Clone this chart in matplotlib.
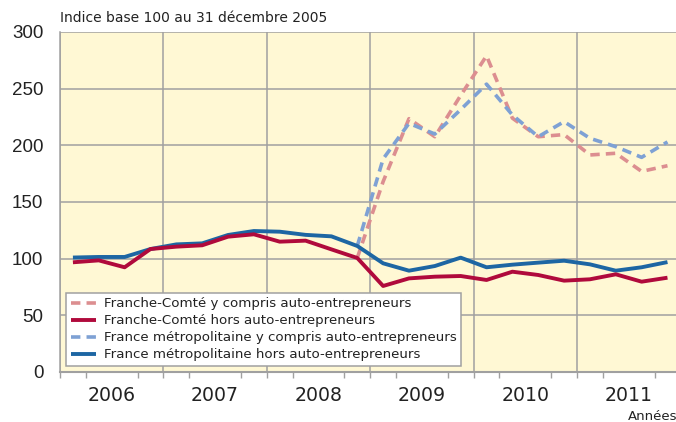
import matplotlib.pyplot as plt
import numpy as np

# quarterly index values, 2006 Q1 .. 2011 Q4 (base 100 at 31/12/2005)
quarters = np.arange(24)
years = [2006, 2007, 2008, 2009, 2010, 2011]

fc_hors = [96.8, 98.5, 92.4, 108.5, 110.6, 111.8, 119.4, 121.5, 115.0, 115.9, 108.2, 100.6,
           75.9, 82.6, 84.1, 84.7, 81.2, 88.5, 85.6, 80.6, 81.8, 86.2, 79.7, 83.2]
fm_hors = [101.0, 101.5, 101.5, 108.5, 112.6, 113.5, 120.9, 124.4, 123.8, 121.0, 119.7, 111.2,
           95.9, 89.4, 93.5, 100.9, 92.4, 94.7, 96.5, 98.2, 95.0, 89.4, 92.4, 97.0]
nan = np.nan
fc_avec = [nan] * 11 + [100.6, 168.0, 223.5, 207.6, 244.0, 279.0, 224.0, 207.6, 209.5,
                        191.5, 193.0, 177.0, 182.0]
fm_avec = [nan] * 11 + [111.2, 188.0, 219.4, 210.0, 231.5, 254.0, 226.8, 207.6, 220.9,
                        206.2, 198.8, 189.4, 203.0]

labels = ["Franche-Comté y compris auto-entrepreneurs",
          "Franche-Comté hors auto-entrepreneurs",
          "France métropolitaine y compris auto-entrepreneurs",
          "France métropolitaine hors auto-entrepreneurs"]

x = 2006 + (quarters + 0.5) / 4.0

plt.rcParams['font.family'] = ['DejaVu Sans']

fig = plt.figure(figsize=(6.76, 4.22), dpi=100)
ax = fig.add_axes([60 / 676, 1 - 372 / 422, 616 / 676, 340 / 422])
ax.set_facecolor('#fff8d4')

grid_c = '#a0a0a0'
for yb in range(2006, 2012):
    ax.axvline(yb, color=grid_c, linewidth=1.1, zorder=1)
ax.set_yticks(np.arange(0, 301, 50))
ax.yaxis.grid(True, color=grid_c, linewidth=1.1, zorder=1)
ax.set_axisbelow(True)

l1, = ax.plot(x, fc_avec, color='#dc8e90', linewidth=2.6, dashes=(2.6, 1.7), zorder=3)
l3, = ax.plot(x, fm_avec, color='#7ea1d4', linewidth=2.6, dashes=(2.6, 1.7), zorder=3)
l4, = ax.plot(x, fm_hors, color='#1d66a3', linewidth=2.8, zorder=4, solid_capstyle='butt')
l2, = ax.plot(x, fc_hors, color='#b00a3c', linewidth=2.8, zorder=5, solid_capstyle='butt')

ax.set_xlim(2006, 2006 + 616 / 103.4)
ax.set_ylim(0, 300)

for s in ['top', 'right']:
    ax.spines[s].set_visible(False)
ax.spines['left'].set_color(grid_c)
ax.spines['left'].set_linewidth(1.1)
ax.spines['bottom'].set_color(grid_c)
ax.spines['bottom'].set_linewidth(1.5)

ax.set_xticks([y + 0.5 for y in years])
ax.set_xticklabels([str(y) for y in years], fontsize=13.6, color='#222222')
ax.set_xticks(np.arange(2006, 2012, 0.25), minor=True)
ax.tick_params(axis='x', which='major', length=0, pad=10)
ax.tick_params(axis='x', which='minor', length=4, width=1, color=grid_c, direction='out')
ax.tick_params(axis='y', length=0, pad=12, labelsize=13.5, labelcolor='#222222')
for t in ax.get_yticklabels():
    t.set_fontfamily(['Liberation Sans', 'DejaVu Sans'])

leg = ax.legend([l1, l2, l3, l4], labels, loc='lower left',
                bbox_to_anchor=(6 / 616, 6 / 340), borderaxespad=0,
                fontsize=9.6, frameon=True, fancybox=False, handlelength=1.9,
                handletextpad=0.6, labelspacing=0.3, borderpad=0.35)
leg.get_frame().set_edgecolor(grid_c)
leg.get_frame().set_linewidth(1.1)
leg.get_frame().set_facecolor('white')
leg.get_frame().set_alpha(1)
for t in leg.get_texts():
    t.set_color('#222222')
leg.set_zorder(10)

fig.text(60 / 676, 1 - 18 / 422, "Indice base 100 au 31 décembre 2005",
         fontsize=10, color='#222222', va='center', ha='left')
fig.text(628 / 676, 1 - 416 / 422, "Années", fontsize=9.5,
         color='#222222', va='center', ha='left')

fig.savefig('out.png', dpi=100)
